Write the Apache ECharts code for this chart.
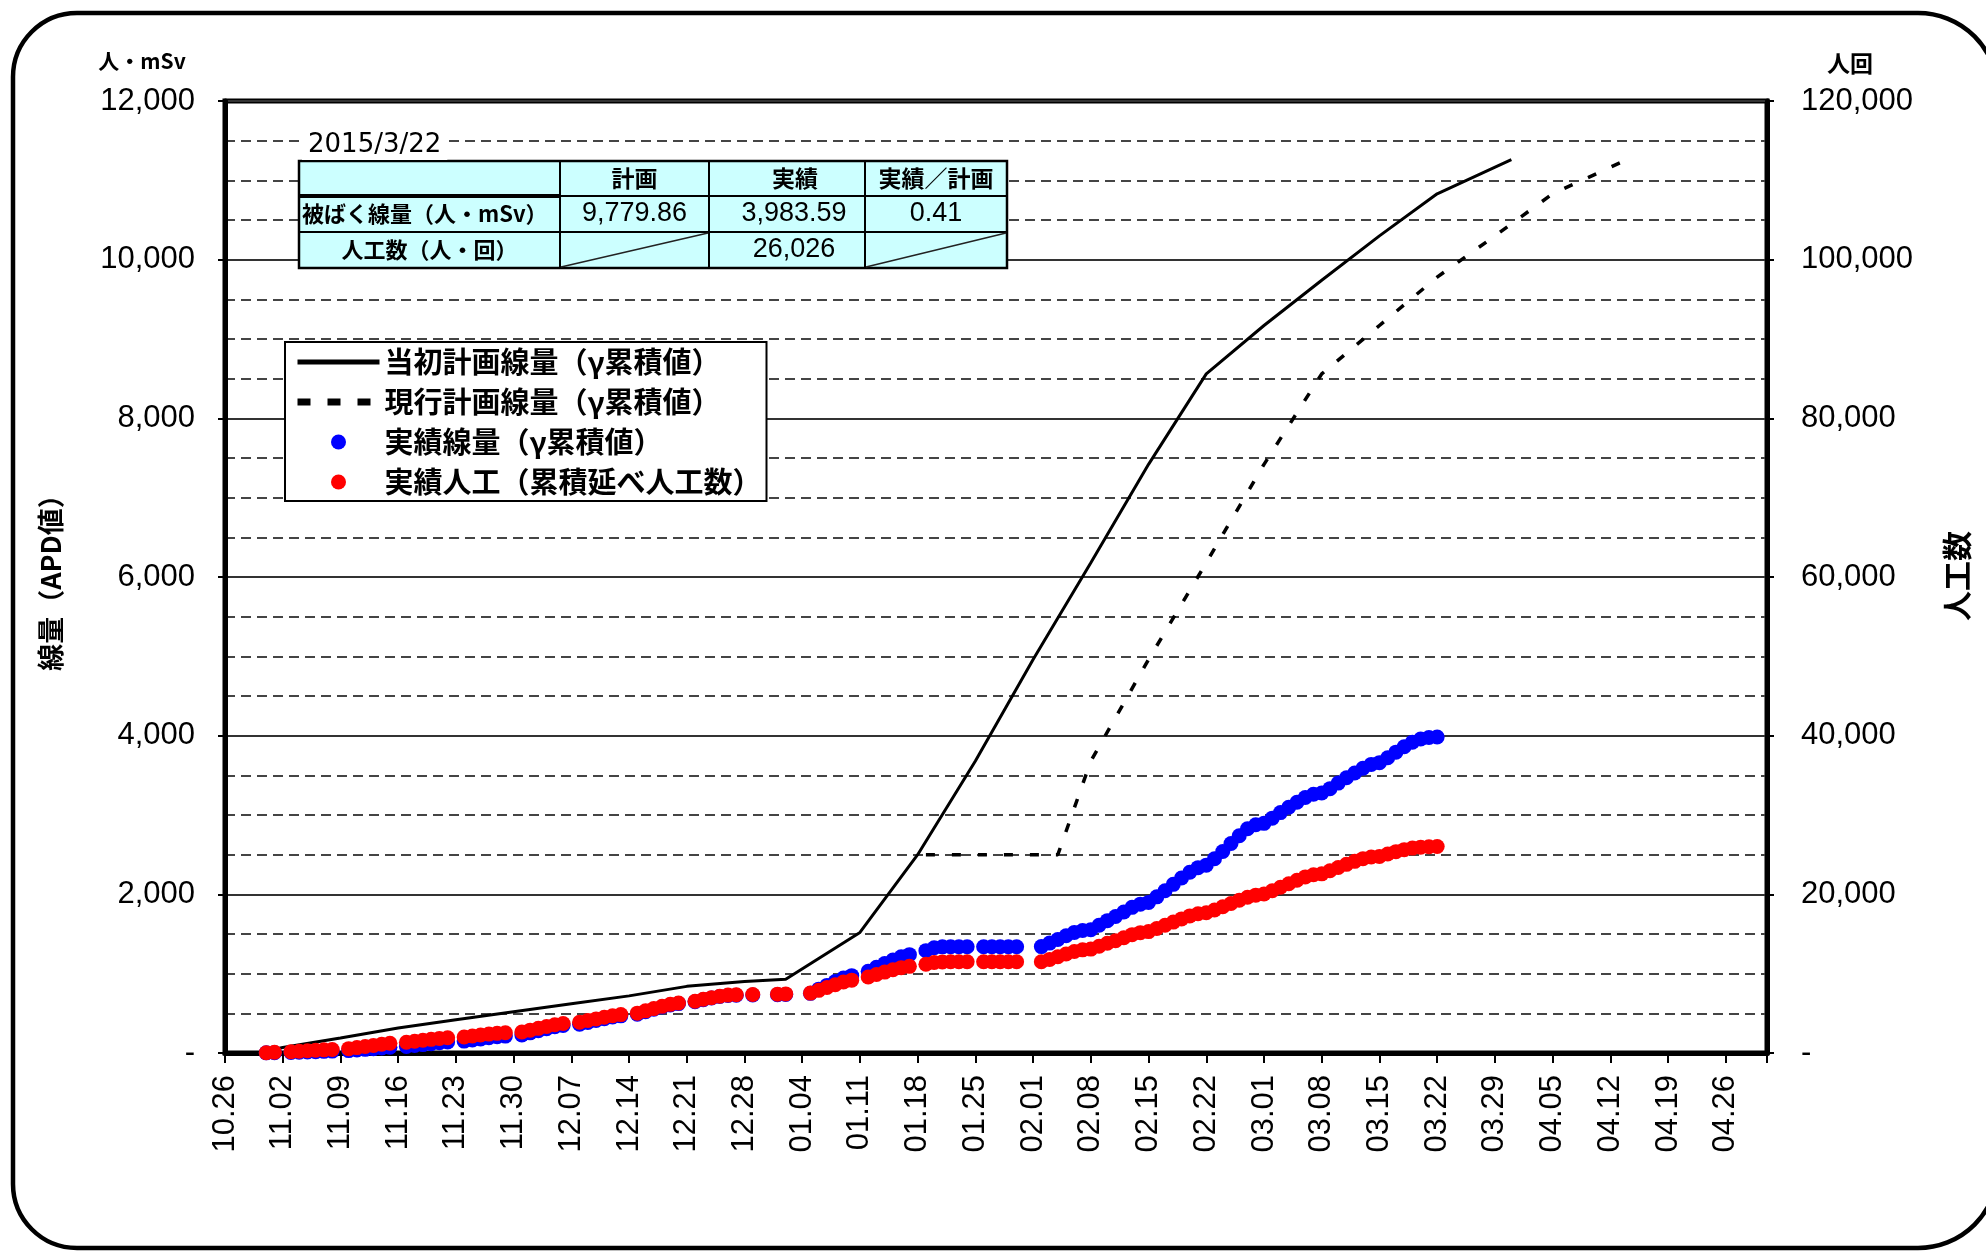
<!DOCTYPE html>
<html>
<head>
<meta charset="utf-8">
<script src="https://cdn.jsdelivr.net/npm/echarts@6/dist/echarts.min.js"></script>
<style>
  html, body { margin: 0; padding: 0; background: #fff; overflow: hidden; }
  #chart { width: 1986px; height: 1251px; }
</style>
</head>
<body>
<div id="chart"></div>
<script>
// ---- weekly tick labels (Sundays from 2014-10-26) ----
const tickLabels = ['10.26','11.02','11.09','11.16','11.23','11.30','12.07','12.14','12.21','12.28',
  '01.04','01.11','01.18','01.25','02.01','02.08','02.15','02.22','03.01','03.08','03.15','03.22',
  '03.29','04.05','04.12','04.19','04.26'];

// ---- 当初計画線量 (initial plan, cumulative, 人・mSv) ----
const planDates = ['2014-10-30','2014-11-02','2014-11-09','2014-11-16','2014-11-23','2014-11-30',
  '2014-12-07','2014-12-14','2014-12-21','2014-12-28','2015-01-02','2015-01-11','2015-01-18',
  '2015-01-25','2015-02-01','2015-02-08','2015-02-15','2015-02-22','2015-03-01','2015-03-08',
  '2015-03-15','2015-03-22','2015-03-31'];
const planDose = [0, 70, 190, 315, 420, 520, 620, 720, 840, 900, 930, 1520, 2500,
  3680, 4960, 6180, 7420, 8560, 9170, 9740, 10300, 10830, 11260];

// ---- 現行計画線量 (current plan, cumulative, 人・mSv) ----
const revisedDates = ['2015-01-19','2015-02-04','2015-02-08','2015-02-15','2015-02-22','2015-03-01',
  '2015-03-08','2015-03-15','2015-03-22','2015-03-29','2015-04-05','2015-04-14'];
const revisedDose = [2500, 2500, 3680, 4960, 6180, 7420, 8560, 9170, 9779.86, 10300, 10830, 11260];

// ---- 実績 (daily actuals) ----
const actualDates = [
  '2014-10-31','2014-11-01',
  '2014-11-03','2014-11-04','2014-11-05','2014-11-06','2014-11-07','2014-11-08',
  '2014-11-10','2014-11-11','2014-11-12','2014-11-13','2014-11-14','2014-11-15',
  '2014-11-17','2014-11-18','2014-11-19','2014-11-20','2014-11-21','2014-11-22',
  '2014-11-24','2014-11-25','2014-11-26','2014-11-27','2014-11-28','2014-11-29',
  '2014-12-01','2014-12-02','2014-12-03','2014-12-04','2014-12-05','2014-12-06',
  '2014-12-08','2014-12-09','2014-12-10','2014-12-11','2014-12-12','2014-12-13',
  '2014-12-15','2014-12-16','2014-12-17','2014-12-18','2014-12-19','2014-12-20',
  '2014-12-22','2014-12-23','2014-12-24','2014-12-25','2014-12-26','2014-12-27',
  '2014-12-29','2015-01-01','2015-01-02',
  '2015-01-05','2015-01-06','2015-01-07','2015-01-08','2015-01-09','2015-01-10',
  '2015-01-12','2015-01-13','2015-01-14','2015-01-15','2015-01-16','2015-01-17',
  '2015-01-19','2015-01-20','2015-01-21','2015-01-22','2015-01-23','2015-01-24',
  '2015-01-26','2015-01-27','2015-01-28','2015-01-29','2015-01-30',
  '2015-02-02','2015-02-03','2015-02-04','2015-02-05','2015-02-06','2015-02-07','2015-02-08',
  '2015-02-09','2015-02-10','2015-02-11','2015-02-12','2015-02-13','2015-02-14','2015-02-15',
  '2015-02-16','2015-02-17','2015-02-18','2015-02-19','2015-02-20','2015-02-21','2015-02-22',
  '2015-02-23','2015-02-24','2015-02-25','2015-02-26','2015-02-27','2015-02-28','2015-03-01',
  '2015-03-02','2015-03-03','2015-03-04','2015-03-05','2015-03-06','2015-03-07','2015-03-08',
  '2015-03-09','2015-03-10','2015-03-11','2015-03-12','2015-03-13','2015-03-14','2015-03-15',
  '2015-03-16','2015-03-17','2015-03-18','2015-03-19','2015-03-20','2015-03-21','2015-03-22'
];
// 実績線量 (γ累積値, 人・mSv)
const actualDose = [
  2, 4,
  7, 10, 13, 17, 21, 24,
  30, 38, 46, 55, 64, 72,
  82, 94, 106, 118, 130, 138,
  150, 164, 178, 192, 205, 213,
  228, 254, 280, 306, 330, 346,
  362, 386, 410, 432, 454, 468,
  488, 520, 551, 580, 606, 623,
  646, 672, 694, 712, 724, 728,
  731, 735, 738,
  752, 805, 852, 900, 945, 975,
  1030, 1080, 1128, 1172, 1212, 1240,
  1290, 1326, 1338, 1339, 1339, 1339,
  1339, 1339, 1339, 1339, 1339,
  1341, 1385, 1430, 1478, 1520, 1545, 1555,
  1610, 1668, 1720, 1778, 1836, 1876, 1898,
  1968, 2046, 2126, 2206, 2278, 2336, 2368,
  2448, 2540, 2640, 2738, 2826, 2878, 2895,
  2960, 3030, 3098, 3160, 3220, 3262, 3278,
  3332, 3402, 3470, 3530, 3590, 3638, 3660,
  3722, 3792, 3860, 3918, 3958, 3976, 3983.59
];
// 実績人工 (累積延べ人工数, 人・回)
const actualWorkers = [
  40, 90,
  160, 220, 280, 340, 400, 450,
  550, 680, 820, 960, 1100, 1220,
  1350, 1480, 1600, 1720, 1840, 1920,
  2020, 2140, 2260, 2380, 2480, 2550,
  2650, 2880, 3110, 3340, 3560, 3720,
  3880, 4100, 4300, 4500, 4690, 4840,
  5020, 5310, 5600, 5880, 6130, 6300,
  6520, 6770, 6980, 7160, 7300, 7350,
  7380, 7420, 7450,
  7550, 7900, 8260, 8610, 8950, 9180,
  9580, 9900, 10200, 10500, 10760, 10920,
  11180, 11400, 11480, 11500, 11500, 11500,
  11500, 11500, 11500, 11500, 11500,
  11510, 11800, 12130, 12470, 12800, 13000, 13100,
  13450, 13840, 14150, 14530, 14920, 15170, 15300,
  15700, 16100, 16500, 16900, 17280, 17550, 17680,
  18030, 18430, 18840, 19250, 19630, 19900, 20050,
  20460, 20900, 21340, 21780, 22200, 22460, 22580,
  22980, 23380, 23780, 24160, 24500, 24700, 24780,
  25080, 25380, 25630, 25830, 25950, 26000, 26026
];

const seriesNames = ['当初計画線量（γ累積値）', '現行計画線量（γ累積値）',
  '実績線量（γ累積値）', '実績人工（累積延べ人工数）'];

// ---- helpers ----
const DAY0 = Date.UTC(2014, 9, 26);
function dayIndex(s) {
  const p = s.split('-').map(Number);
  return (Date.UTC(p[0], p[1] - 1, p[2]) - DAY0) / 86400000;
}
const pairs = (dates, vals) => dates.map((d, i) => [dayIndex(d), vals[i]]);
const fmtInt = v => v === 0 ? '-' : v.toLocaleString('en-US');
const fmt2 = v => v.toLocaleString('en-US', { minimumFractionDigits: 2, maximumFractionDigits: 2 });

// ---- summary table values ----
const lastDate = actualDates[actualDates.length - 1];
const lastDose = actualDose[actualDose.length - 1];
const lastWorkers = actualWorkers[actualWorkers.length - 1];
const planAtLast = revisedDose[revisedDates.indexOf(lastDate)];
const ld = lastDate.split('-').map(Number);
const tableDate = ld[0] + '/' + ld[1] + '/' + ld[2];
const tableHead = ['', '計画', '実績', '実績／計画'];
const tableRows = [
  ['被ばく線量（人・mSv）', fmt2(planAtLast), fmt2(lastDose), (lastDose / planAtLast).toFixed(2)],
  ['人工数（人・回）', null, lastWorkers.toLocaleString('en-US'), null]
];

// ---- table graphic ----
const CJK = '"Noto Sans CJK JP", sans-serif';
const LAT = '"Liberation Sans", Arial, sans-serif';
const tx = [299, 560, 709, 865, 1007];
const ty = [161, 196, 232, 268];
const tbl = [];
tbl.push({ type: 'rect', shape: { x: tx[0], y: ty[0], width: tx[4] - tx[0], height: ty[3] - ty[0] },
  style: { fill: '#CCFFFF', stroke: '#000', lineWidth: 2.5 }, z: 100 });
[ty[1], ty[2]].forEach(y => tbl.push({ type: 'line', shape: { x1: tx[0], y1: y, x2: tx[4], y2: y },
  style: { stroke: '#000', lineWidth: 2 }, z: 101 }));
tbl.push({ type: 'line', shape: { x1: tx[0], y1: ty[1], x2: tx[1], y2: ty[1] },
  style: { stroke: '#000', lineWidth: 4 }, z: 101 });
[tx[1], tx[2], tx[3]].forEach(x => tbl.push({ type: 'line', shape: { x1: x, y1: ty[0], x2: x, y2: ty[3] },
  style: { stroke: '#000', lineWidth: 2 }, z: 101 }));
const cellText = (text, x, y, font, align) => ({ type: 'text', x: x, y: y, z: 102,
  style: { text: text, font: font, fill: '#000', align: align || 'center', verticalAlign: 'middle' } });
const midY = r => (ty[r] + ty[r + 1]) / 2;
tbl.push(cellText(tableHead[1], (tx[1] + tx[2]) / 2, midY(0), 'bold 23px ' + CJK));
tbl.push(cellText(tableHead[2], (tx[2] + tx[3]) / 2 + 8, midY(0), 'bold 23px ' + CJK));
tbl.push(cellText(tableHead[3], (tx[3] + tx[4]) / 2, midY(0), 'bold 23px ' + CJK));
tableRows.forEach((row, r) => {
  const y = midY(r + 1);
  if (r === 0) tbl.push(cellText(row[0], tx[0] + 3, y, 'bold 22px ' + CJK, 'left'));
  else tbl.push(cellText(row[0], (tx[0] + tx[1]) / 2, y, 'bold 22px ' + CJK));
  for (let c = 1; c <= 3; c++) {
    if (row[c] === null) {
      tbl.push({ type: 'line', z: 101, shape: { x1: tx[c] + 1, y1: ty[r + 2] - 1, x2: tx[c + 1] - 1, y2: ty[r + 1] + 1 },
        style: { stroke: '#222', lineWidth: 1.5 } });
    } else {
      const cx = c === 2 ? (tx[2] + tx[3]) / 2 + 7 : (tx[c] + tx[c + 1]) / 2;
      tbl.push(cellText(row[c], cx, y, '27px ' + LAT));
    }
  }
});
tbl.push({ type: 'text', x: 302, y: 145, z: 102,
  style: { text: tableDate, font: '26px "DejaVu Sans", sans-serif', fill: '#000',
    align: 'left', verticalAlign: 'middle', backgroundColor: '#fff', padding: [2, 6] } });

// ---- frame: straight edges plus rounded corners; its right side lies past the page edge ----
const FR = { l: 13, t: 13, b: 1248, r: 1998, rl: 64, rr: 80 };
const frameStyle = { stroke: '#000', lineWidth: 4.5, fill: 'none' };
const frame = [
  { type: 'line', shape: { x1: FR.l + FR.rl, y1: FR.t, x2: FR.r - FR.rr, y2: FR.t } },
  { type: 'line', shape: { x1: FR.l + FR.rl, y1: FR.b, x2: FR.r - FR.rr, y2: FR.b } },
  { type: 'line', shape: { x1: FR.l, y1: FR.t + FR.rl, x2: FR.l, y2: FR.b - FR.rl } },
  { type: 'arc', shape: { cx: FR.l + FR.rl, cy: FR.t + FR.rl, r: FR.rl, startAngle: Math.PI, endAngle: Math.PI * 1.5, clockwise: true } },
  { type: 'arc', shape: { cx: FR.l + FR.rl, cy: FR.b - FR.rl, r: FR.rl, startAngle: Math.PI * 0.5, endAngle: Math.PI, clockwise: true } },
  { type: 'arc', shape: { cx: FR.r - FR.rr, cy: FR.t + FR.rr, r: FR.rr, startAngle: Math.PI * 1.5, endAngle: Math.PI * 2, clockwise: true } },
  { type: 'arc', shape: { cx: FR.r - FR.rr, cy: FR.b - FR.rr, r: FR.rr, startAngle: 0, endAngle: Math.PI * 0.5, clockwise: true } }
].map(e => Object.assign(e, { z: 0, style: Object.assign({}, frameStyle) }));

const deco = frame.concat([
  { type: 'text', x: 142, y: 61, z: 10,
    style: { text: '人・mSv', font: 'bold 21px ' + CJK, fill: '#000', align: 'center', verticalAlign: 'middle' } },
  { type: 'text', x: 1850, y: 63, z: 10,
    style: { text: '人回', font: 'bold 23px ' + CJK, fill: '#000', align: 'center', verticalAlign: 'middle' } },
  { type: 'text', x: 51, y: 576, rotation: Math.PI / 2, z: 10,
    style: { text: '線量（APD値）', font: 'bold 27px ' + CJK, fill: '#000', align: 'center', verticalAlign: 'middle' } },
  { type: 'text', x: 1957, y: 576, rotation: Math.PI / 2, z: 10,
    style: { text: '人工数', font: 'bold 30px ' + CJK, fill: '#000', align: 'center', verticalAlign: 'middle' } }
]);

const chart = echarts.init(document.getElementById('chart'), null, { renderer: 'canvas' });
chart.setOption({
  animation: false,
  backgroundColor: '#fff',
  grid: { left: 225, right: 219, top: 101, bottom: 198, containLabel: false, outerBoundsMode: 'none',
    show: true, borderColor: '#000', borderWidth: 5, backgroundColor: 'transparent' },
  legend: {
    left: 285, top: 342, orient: 'vertical',
    padding: [5, 5, 4, 9], itemGap: 10, itemWidth: 82, itemHeight: 15,
    backgroundColor: '#fff', borderColor: '#000', borderWidth: 2, borderRadius: 0,
    textStyle: { fontSize: 29, fontWeight: 'bold', fontFamily: 'Noto Sans CJK JP', color: '#000', lineHeight: 30 },
    data: [
      { name: seriesNames[0], itemStyle: { opacity: 0 }, lineStyle: { width: 5, color: '#000' } },
      { name: seriesNames[1], itemStyle: { opacity: 0 }, lineStyle: { width: 7, color: '#000', type: [13, 17] } },
      { name: seriesNames[2], icon: 'circle' },
      { name: seriesNames[3], icon: 'circle' }
    ],
    z: 50
  },
  xAxis: {
    type: 'value', min: 0, max: 187, interval: 7,
    axisLine: { lineStyle: { color: '#000', width: 5 } },
    axisTick: { show: true, length: 10, lineStyle: { color: '#000', width: 2 } },
    axisLabel: { rotate: 90, margin: 22, fontSize: 31, fontFamily: 'Liberation Sans', color: '#000',
      formatter: v => (Number.isInteger(v / 7) && tickLabels[v / 7]) ? tickLabels[v / 7] : '' },
    splitLine: { show: false }
  },
  yAxis: [
    {
      type: 'value', min: 0, max: 12000, interval: 2000, position: 'left',
      axisLine: { show: true, lineStyle: { color: '#000', width: 5 } },
      axisTick: { show: true, length: 7, lineStyle: { color: '#000', width: 2 } },
      axisLabel: { margin: 30, fontSize: 31, fontFamily: 'Liberation Sans', color: '#000', formatter: fmtInt },
      splitLine: { show: true, lineStyle: { color: '#333', width: 2 } },
      minorTick: { show: false, splitNumber: 4 },
      minorSplitLine: { show: true, lineStyle: { color: '#444', width: 2, type: [10, 6] } }
    },
    {
      type: 'value', min: 0, max: 120000, interval: 20000, position: 'right',
      axisLine: { show: true, lineStyle: { color: '#000', width: 5 } },
      axisTick: { show: true, length: 7, lineStyle: { color: '#000', width: 2 } },
      axisLabel: { margin: 34, fontSize: 31, fontFamily: 'Liberation Sans', color: '#000', formatter: fmtInt },
      splitLine: { show: false }
    }
  ],
  series: [
    { name: seriesNames[0], type: 'line', yAxisIndex: 0, data: pairs(planDates, planDose),
      symbol: 'none', lineStyle: { color: '#000', width: 3 }, itemStyle: { color: '#000' }, z: 3 },
    { name: seriesNames[1], type: 'line', yAxisIndex: 0, data: pairs(revisedDates, revisedDose),
      symbol: 'none', lineStyle: { color: '#000', width: 3.5, type: [9, 17] }, itemStyle: { color: '#000' }, z: 3 },
    { name: seriesNames[2], type: 'scatter', yAxisIndex: 0, data: pairs(actualDates, actualDose),
      symbol: 'circle', symbolSize: 15, itemStyle: { color: '#0000FF', opacity: 1 }, z: 4 },
    { name: seriesNames[3], type: 'scatter', yAxisIndex: 1, data: pairs(actualDates, actualWorkers),
      symbol: 'circle', symbolSize: 15, itemStyle: { color: '#FF0000', opacity: 1 }, z: 5 }
  ],
  graphic: { elements: deco.concat(tbl) }
});
</script>
</body>
</html>
